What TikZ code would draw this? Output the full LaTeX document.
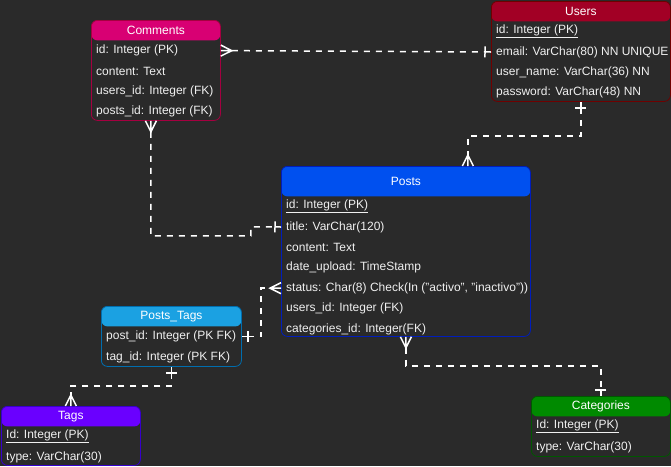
\documentclass[tikz,border=0pt]{standalone}
\usepackage{fontspec}
\setmainfont{Liberation Sans}
\usetikzlibrary{arrows.meta,positioning}

\definecolor{Canvas}{HTML}{2A2A2A}
\definecolor{Ink}{HTML}{F0F0F0}
\definecolor{CommentsFill}{HTML}{D80073}
\definecolor{CommentsLine}{HTML}{A50040}
\definecolor{UsersFill}{HTML}{A20025}
\definecolor{UsersLine}{HTML}{6F0000}
\definecolor{PostsFill}{HTML}{0050EF}
\definecolor{PostsLine}{HTML}{001DBC}
\definecolor{PTagsFill}{HTML}{1BA1E2}
\definecolor{PTagsLine}{HTML}{006EAF}
\definecolor{TagsFill}{HTML}{6A00FF}
\definecolor{TagsLine}{HTML}{3700CC}
\definecolor{CatFill}{HTML}{008A00}
\definecolor{CatLine}{HTML}{005700}

% crow's foot (many)
\pgfdeclarearrow{
  name = ER Many,
  parameters = {\the\pgfarrowlength,\the\pgfarrowwidth},
  setup code = {
    \pgfarrowssettipend{0pt}
    \pgfarrowssetlineend{-\pgfarrowlength}
    \pgfarrowssetbackend{-\pgfarrowlength}
    \pgfarrowssavethe\pgfarrowlength
    \pgfarrowssavethe\pgfarrowwidth
  },
  drawing code = {
    \pgfsetdash{}{0pt}
    \pgfpathmoveto{\pgfpoint{0pt}{.5\pgfarrowwidth}}
    \pgfpathlineto{\pgfpoint{-\pgfarrowlength}{0pt}}
    \pgfpathlineto{\pgfpoint{0pt}{-.5\pgfarrowwidth}}
    \pgfpathmoveto{\pgfpoint{-\pgfarrowlength}{0pt}}
    \pgfpathlineto{\pgfpointorigin}
    \pgfusepathqstroke
  },
  defaults = {length = 11pt, width = 11pt}
}
% single bar (one)
\pgfdeclarearrow{
  name = ER One,
  parameters = {\the\pgfarrowlength,\the\pgfarrowwidth},
  setup code = {
    \pgfarrowssettipend{0pt}
    \pgfarrowssetlineend{-\pgfarrowlength-3pt}
    \pgfarrowssetbackend{-\pgfarrowlength}
    \pgfarrowssavethe\pgfarrowlength
    \pgfarrowssavethe\pgfarrowwidth
  },
  drawing code = {
    \pgfsetdash{}{0pt}
    \pgfpathmoveto{\pgfpoint{-\pgfarrowlength}{.5\pgfarrowwidth}}
    \pgfpathlineto{\pgfpoint{-\pgfarrowlength}{-.5\pgfarrowwidth}}
    \pgfpathmoveto{\pgfpoint{-\pgfarrowlength}{0pt}}
    \pgfpathlineto{\pgfpointorigin}
    \pgfusepathqstroke
  },
  defaults = {length = 6pt, width = 11pt}
}

\tikzset{
  erbox/.style n args={3}{draw=#2, fill=Canvas, line width=0.8pt,
    rounded corners=6pt, anchor=north west, inner sep=0pt,
    path picture={\fill[#1] (path picture bounding box.north west)
      rectangle ([yshift=-#3]path picture bounding box.north east);}},
  ertitle/.style={anchor=north, inner sep=0pt, text=white,
    font=\fontsize{12}{14}\selectfont},
  row/.style={inner xsep=5pt, inner ysep=0pt, minimum height=20pt,
    text=Ink, font=\fontsize{12}{14}\selectfont},
  link/.style={draw=white, line width=1.5pt, dash pattern=on 6pt off 6pt},
}

\begin{document}
\begin{tikzpicture}[x=1pt, y=-1pt]
\fill[Canvas] (0,0) rectangle (671,466);
\useasboundingbox (0,0) rectangle (671,466);

% Comments
\node[erbox={CommentsFill}{CommentsLine}{20pt}, minimum width=129pt, minimum height=100pt] (comments) at (91,20) {};
\node[ertitle, minimum height=20pt] (comments-t) at (comments.north) {Comments};
\node[row, anchor=north west] (comments-id) at (comments-t.south -| comments.west) {id: Integer (PK)};
\node[row, below right=0pt of comments-id.south west] (comments-content) {content: Text};
\node[row, below right=0pt of comments-content.south west] (comments-user) {users\_id: Integer (FK)};
\node[row, below right=0pt of comments-user.south west] (comments-post) {posts\_id: Integer (FK)};

% Users
\node[erbox={UsersFill}{UsersLine}{20pt}, minimum width=179pt, minimum height=100pt] (users) at (491,1) {};
\node[ertitle, minimum height=20pt] (users-t) at (users.north) {Users};
\node[row, anchor=north west] (users-id) at (users-t.south -| users.west) {\underline{id: Integer (PK)}};
\node[row, below right=0pt of users-id.south west] (users-email) {email: VarChar(80) NN UNIQUE};
\node[row, below right=0pt of users-email.south west] (users-name) {user\_name: VarChar(36) NN};
\node[row, below right=0pt of users-name.south west] (users-pw) {password: VarChar(48) NN};

% Posts
\node[erbox={PostsFill}{PostsLine}{30pt}, minimum width=249pt, minimum height=170pt] (posts) at (281,166) {};
\node[ertitle, minimum height=30pt] (posts-t) at (posts.north) {Posts};
\node[row, anchor=north west] (posts-id) at (posts-t.south -| posts.west) {\underline{id: Integer (PK)}};
\node[row, below right=0pt of posts-id.south west] (posts-title) {title: VarChar(120)};
\node[row, below right=0pt of posts-title.south west] (posts-content) {content: Text};
\node[row, below right=0pt of posts-content.south west] (posts-date) {date\_upload: TimeStamp};
\node[row, below right=0pt of posts-date.south west] (posts-status) {status: Char(8) Check(In ("activo", "inactivo"))};
\node[row, below right=0pt of posts-status.south west] (posts-user) {users\_id: Integer (FK)};
\node[row, below right=0pt of posts-user.south west] (posts-cat) {categories\_id: Integer(FK)};

% Posts_Tags
\node[erbox={PTagsFill}{PTagsLine}{20pt}, minimum width=140pt, minimum height=60pt] (ptags) at (101,306) {};
\node[ertitle, minimum height=20pt] (ptags-t) at (ptags.north) {Posts\_Tags};
\node[row, anchor=north west] (ptags-post) at (ptags-t.south -| ptags.west) {post\_id: Integer (PK FK)};
\node[row, below right=0pt of ptags-post.south west] (ptags-tag) {tag\_id: Integer (PK FK)};

% Tags
\node[erbox={TagsFill}{TagsLine}{20pt}, minimum width=139pt, minimum height=59pt] (tags) at (1,406) {};
\node[ertitle, minimum height=20pt] (tags-t) at (tags.north) {Tags};
\node[row, anchor=north west] (tags-id) at (tags-t.south -| tags.west) {\underline{Id: Integer (PK)}};
\node[row, below right=0pt of tags-id.south west] (tags-type) {type: VarChar(30)};

% Categories
\node[erbox={CatFill}{CatLine}{20pt}, minimum width=139pt, minimum height=60pt] (categories) at (531,396) {};
\node[ertitle, minimum height=20pt] (categories-t) at (categories.north) {Categories};
\node[row, anchor=north west] (categories-id) at (categories-t.south -| categories.west) {\underline{Id: Integer (PK)}};
\node[row, below right=0pt of categories-id.south west] (categories-type) {type: VarChar(30)};

% relations
\draw[link, {ER Many}-{ER One}] (comments-id -| comments.east) -- (users-email -| users.west);
\draw[link, {ER One}-{ER Many}] (users.south) -- ++(0,34) -| ([xshift=62pt]posts.north);
\draw[link, {ER Many}-{ER One}] ([xshift=-5pt]comments.south) -- ++(0,115) -| ++(100,-9) -- (posts-title -| posts.west);
\draw[link, {ER One}-{ER Many}] (ptags-post -| ptags.east) -- ++(19,0) |- (posts-status -| posts.west);
\draw[link, {ER One}-{ER Many}] (ptags.south) -- ++(0,19) -| (tags.north);
\draw[link, {ER Many}-{ER One}] (posts.south) -- ++(0,29) -| (categories.north);
\end{tikzpicture}
\end{document}
